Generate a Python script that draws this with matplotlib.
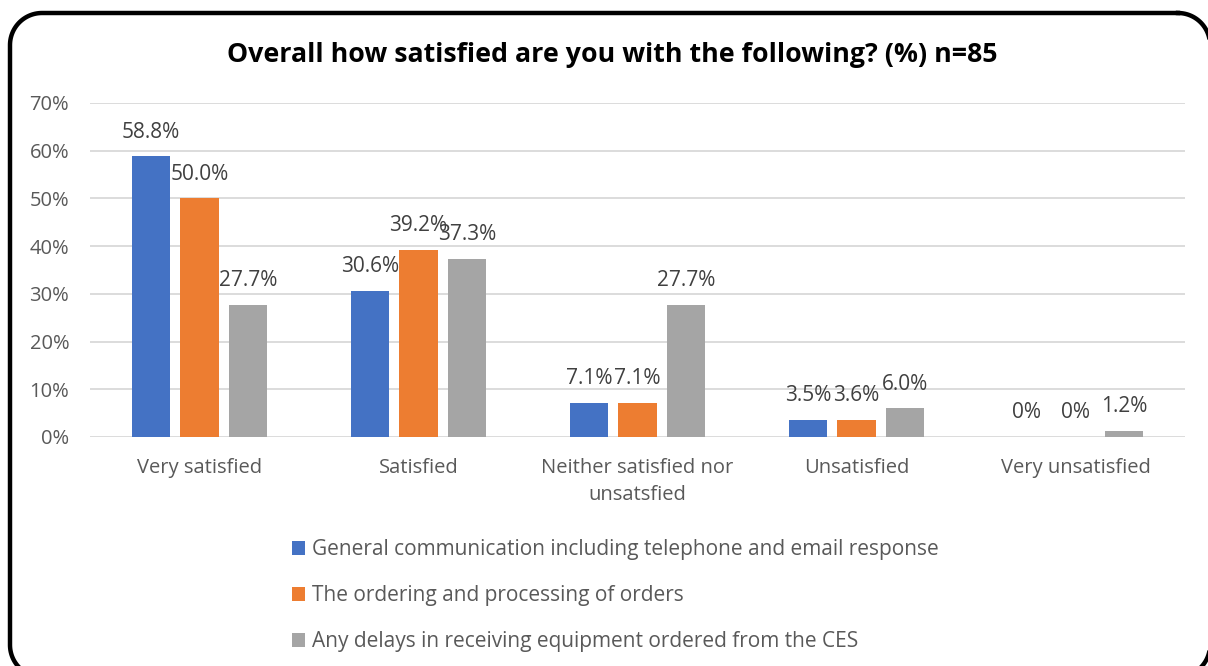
import matplotlib.pyplot as plt
import numpy as np

plt.rcParams['font.family'] = ['Open Sans', 'DejaVu Sans']

categorias = ['Very satisfied', 'Satisfied', 'Neither satisfied nor\nunsatsfied',
              'Unsatisfied', 'Very unsatisfied']
comunicacion = [58.8, 30.6, 7.1, 3.5, 0]
pedidos = [50.0, 39.2, 7.1, 3.6, 0]
demoras = [27.7, 37.3, 27.7, 6.0, 1.2]
series = ['General communication including telephone and email response',
          'The ordering and processing of orders',
          'Any delays in receiving equipment ordered from the CES']
colores = ['#4472C4', '#ED7D31', '#A5A5A5']

W, H = 1208, 666


def contorno_redondeado(x0, y0, x1, y1, r, n=30):
    # rectangulo con esquinas redondeadas como polilinea (en pixeles, y hacia abajo)
    esquinas = [(x1 - r, y0 + r, -np.pi / 2, 0),
                (x1 - r, y1 - r, 0, np.pi / 2),
                (x0 + r, y1 - r, np.pi / 2, np.pi),
                (x0 + r, y0 + r, np.pi, 1.5 * np.pi)]
    xs, ys = [], []
    for cx, cy, a0, a1 in esquinas:
        t = np.linspace(a0, a1, n)
        xs.extend(cx + r * np.cos(t))
        ys.extend(cy + r * np.sin(t))
    xs.append(xs[0])
    ys.append(ys[0])
    return xs, ys


fig = plt.figure(figsize=(W / 100, H / 100), dpi=100)

fondo = fig.add_axes([0, 0, 1, 1], zorder=-1)
fondo.set_xlim(0, W)
fondo.set_ylim(H, 0)
fondo.axis('off')
mx, my = contorno_redondeado(10, 13, 1210, 677, 32)
fondo.plot(mx, my, color='black', linewidth=3.2, solid_joinstyle='round')

ax = fig.add_axes([90 / W, 1 - 437 / H, 1095 / W, 334 / H])

x = np.arange(len(categorias))
ancho = 0.174
desp = 0.222
for i, vals in enumerate([comunicacion, pedidos, demoras]):
    pos = x + (i - 1) * desp
    ax.bar(pos, vals, ancho, color=colores[i], label=series[i], zorder=3)
    for p, v in zip(pos, vals):
        txt = '0%' if v == 0 else f'{v:.1f}%'
        ax.annotate(txt, (p, v), xytext=(0, 17.5), textcoords='offset points',
                    ha='center', va='center', fontsize=15, color='#404040')

ax.set_xlim(-0.5, 4.5)
ax.set_ylim(0, 70)
ax.set_yticks(range(0, 71, 10))
ax.set_yticklabels([f'{t}%' for t in range(0, 71, 10)])
ax.set_xticks(x)
ax.set_xticklabels(categorias, linespacing=1.5)
ax.tick_params(axis='y', length=0, labelsize=14.5, labelcolor='#595959', pad=15)
ax.tick_params(axis='x', length=0, labelsize=14.5, labelcolor='#595959', pad=15)
ax.grid(axis='y', color='#D9D9D9', linewidth=1.3, zorder=0)
for s in ax.spines.values():
    s.set_visible(False)

fig.text(612 / W, 1 - 55 / H, 'Overall how satisfied are you with the following? (%) n=85',
         ha='center', va='center', fontsize=19.3, fontweight='bold', color='black')

leg = fig.legend(loc='center left', bbox_to_anchor=(292 / W, 1 - 596 / H), frameon=False,
                 fontsize=15, labelspacing=1.2, handlelength=0.63, handleheight=0.63,
                 handletextpad=0.35, borderpad=0, borderaxespad=0)
for t in leg.get_texts():
    t.set_color('#595959')

fig.savefig('out.png', dpi=100)
